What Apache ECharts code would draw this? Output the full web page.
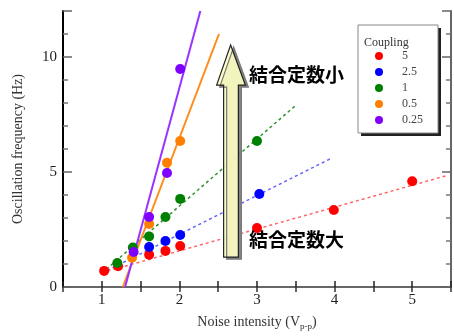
<!DOCTYPE html>
<html><head><meta charset="utf-8">
<script src="https://cdn.jsdelivr.net/npm/echarts@6/dist/echarts.min.js"></script>
<style>html,body{margin:0;padding:0;background:#fff}#c{width:454px;height:336px}</style>
</head><body><div id="c"></div>
<script>
const couplings = ['5', '2.5', '1', '0.5', '0.25'];
const colors = ['#ff0000', '#0000ff', '#008000', '#ff8000', '#8000ff'];
const fitColors = ['#ff6666', '#6666ff', '#2f932f', '#ff8c1a', '#9933ff'];
const xTickLabels = [1, 2, 3, 4, 5];
const yTickLabels = [0, 5, 10];

const redX = [1.03, 1.21, 1.61, 1.82, 2.01, 3.0, 3.99, 5.0];
const redY = [0.7, 0.9, 1.4, 1.57, 1.78, 2.56, 3.35, 4.6];
const blueX = [1.61, 1.82, 2.01, 3.03];
const blueY = [1.74, 2.0, 2.26, 4.04];
const greenX = [1.2, 1.4, 1.61, 1.82, 2.01, 3.0];
const greenY = [1.04, 1.72, 2.2, 3.04, 3.83, 6.35];
const orangeX = [1.39, 1.61, 1.84, 2.01];
const orangeY = [1.27, 2.74, 5.4, 6.35];
const purpleX = [1.41, 1.61, 1.84, 2.01];
const purpleY = [1.52, 3.04, 4.96, 9.48];

// fitted trend lines: [x0, y0, x1, y1]
const redFit = [1.0, 0.62, 5.45, 4.85];
const blueFit = [1.0, 0.6, 3.96, 5.6];
const greenFit = [1.0, 0.6, 3.49, 7.87];
const orangeFit = [1.27, 0, 2.51, 11.0];
const purpleFit = [1.3, 0, 2.27, 12];

// annotation arrow in data coordinates
const arrowTip = [2.66, 10.52];
const arrowHeadBase = [2.48, 2.85, 8.78];
const arrowShaft = [2.57, 2.76, 1.3];
const labelSmall = '結合定数小';
const labelLarge = '結合定数大';

const xs = [redX, blueX, greenX, orangeX, purpleX];
const ys = [redY, blueY, greenY, orangeY, purpleY];
const fits = [redFit, blueFit, greenFit, orangeFit, purpleFit];

const serif = 'Liberation Serif';
const series = [];
fits.forEach((f, i) => {
  series.push({
    type: 'line', name: 'fit' + i, silent: true, symbol: 'none',
    data: [[f[0], f[1]], [f[2], f[3]]],
    lineStyle: { color: fitColors[i], width: i >= 3 ? 2 : 1.5, type: i >= 3 ? 'solid' : [3, 3] },
    z: 2
  });
});
couplings.forEach((c, i) => {
  series.push({
    type: 'scatter', name: c, symbol: 'circle', symbolSize: 10,
    data: xs[i].map((x, k) => [x, ys[i][k]]),
    itemStyle: { color: colors[i], opacity: 1 }, z: 3
  });
});

const chart = echarts.init(document.getElementById('c'), null, { renderer: 'canvas' });
const option = {
  animation: false,
  backgroundColor: '#fff',
  grid: { left: 63, top: 11, right: -3, bottom: 49 },
  xAxis: [{
    type: 'value', position: 'bottom', min: 0.5, max: 5.5, interval: 0.5,
    splitLine: { show: false },
    axisLine: { lineStyle: { color: '#555', width: 2 } },
    axisTick: { inside: true, length: 6, lineStyle: { color: '#222', width: 1.5 } },
    axisLabel: {
      formatter: v => (xTickLabels.indexOf(Math.round(v * 100) / 100) >= 0 ? String(v) : ''),
      fontFamily: serif, fontSize: 15, color: '#222', margin: 6
    },
    name: 'Noise intensity (V{s|p-p})', nameLocation: 'middle', nameGap: 27,
    nameTextStyle: { fontFamily: serif, fontSize: 14, color: '#333', rich: { s: { fontFamily: serif, fontSize: 9, color: '#333', verticalAlign: 'bottom', padding: [8, 0, 0, 0] } } }
  }, {
    type: 'value', position: 'top', min: 0.5, max: 5.5, interval: 0.5,
    splitLine: { show: false },
    axisLine: { lineStyle: { color: '#666', width: 2 } },
    axisTick: { inside: true, length: 5, lineStyle: { color: '#333', width: 1.5 } },
    axisLabel: { show: false }
  }],
  yAxis: [{
    type: 'value', position: 'left', min: 0, max: 12, interval: 5,
    splitLine: { show: false },
    axisLine: { lineStyle: { color: '#000', width: 2 } },
    axisTick: { inside: true, length: 9, lineStyle: { color: '#666', width: 1.5 } },
    minorTick: { show: true, splitNumber: 5, length: 5, lineStyle: { color: '#777', width: 1.5 } },
    axisLabel: {
      formatter: v => (yTickLabels.indexOf(v) >= 0 ? String(v) : ''),
      fontFamily: serif, fontSize: 15, color: '#222', margin: 6
    },
    name: 'Oscillation frequency (Hz)', nameLocation: 'middle', nameGap: 38,
    nameTextStyle: { fontFamily: serif, fontSize: 14, color: '#333' }
  }, {
    type: 'value', position: 'right', min: 0, max: 12, interval: 5,
    splitLine: { show: false },
    axisLine: { lineStyle: { color: '#666', width: 2 } },
    axisTick: { inside: true, length: 9, lineStyle: { color: '#666', width: 1.5 } },
    minorTick: { show: true, splitNumber: 5, length: 5, lineStyle: { color: '#777', width: 1.5 } },
    axisLabel: { show: false }
  }],
  legend: {
    data: couplings, orient: 'vertical', left: 375, top: 50,
    icon: 'circle', itemWidth: 8, itemHeight: 8, itemGap: 4,
    textStyle: { fontFamily: serif, fontSize: 12, color: '#444', lineHeight: 12, padding: [0, 0, 0, 14] },
    padding: 0, z: 5
  },
  series: series
};
chart.setOption(option);

function p(x, y) { return chart.convertToPixel({ gridIndex: 0 }, [x, y]); }
const tip = p(arrowTip[0], arrowTip[1]);
const hl = p(arrowHeadBase[0], arrowHeadBase[2]);
const hr = p(arrowHeadBase[1], arrowHeadBase[2]);
const sl = p(arrowShaft[0], arrowHeadBase[2]);
const sr = p(arrowShaft[1], arrowHeadBase[2]);
const bl = p(arrowShaft[0], arrowShaft[2]);
const br = p(arrowShaft[1], arrowShaft[2]);

chart.setOption({
  graphic: [
    { type: 'rect', z: 1, shape: { x: 361, y: 28, width: 80, height: 108 }, style: { fill: '#222' } },
    { type: 'rect', z: 2, shape: { x: 358, y: 25, width: 80, height: 108 }, style: { fill: '#fff', stroke: '#888', lineWidth: 1 } },
    { type: 'text', z: 6, x: 364, y: 37, style: { text: 'Coupling', font: '12px "Liberation Serif"', fill: '#333' } },
    { type: 'polygon', z: 20,
      shape: { points: [tip, hr, sr, br, bl, sl, hl] },
      style: { fill: 'rgba(255,255,196,0.9)', stroke: '#222', lineWidth: 1.2, shadowColor: '#777', shadowOffsetX: 3, shadowOffsetY: 2, shadowBlur: 0 } },
    { type: 'text', z: 21, x: 249, y: 65, style: { text: labelSmall, font: 'bold 19px "Noto Sans CJK JP"', fill: '#000' } },
    { type: 'text', z: 21, x: 249, y: 230, style: { text: labelLarge, font: 'bold 19px "Noto Sans CJK JP"', fill: '#000' } }
  ]
});
</script>
</body></html>
